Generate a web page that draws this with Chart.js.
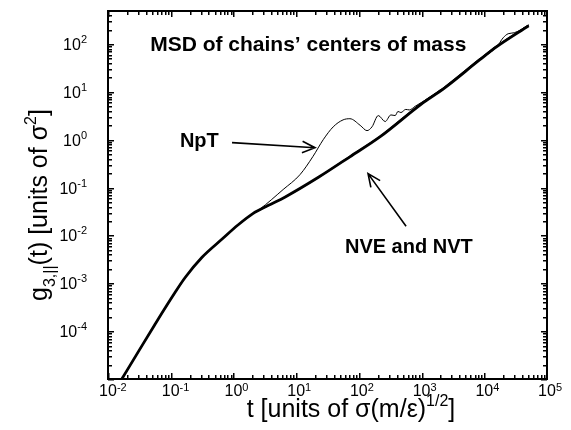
<!DOCTYPE html>
<html>
<head>
<meta charset="utf-8">
<script src="https://cdn.jsdelivr.net/npm/chart.js@4.4.0/dist/chart.umd.min.js"></script>
<style>
  html, body { margin: 0; padding: 0; background: #fff; }
  canvas { display: block; }
</style>
</head>
<body>
<canvas id="msdCanvas" width="571" height="430"></canvas>
<script>
// valores (t em sigma*(m/eps)^1/2, g em sigma^2)
const tempos = [0.0166, 0.030, 0.056, 0.117, 0.17, 0.316, 0.66, 1.18, 2.04, 3.56, 6.6, 23, 72, 219, 980, 2370, 8500, 15850, 51000];
const gNVE = [1.0e-5, 3.6e-5, 1.38e-4, 6.4e-4, 1.32e-3, 3.5e-3, 8.4e-3, 0.0165, 0.0286, 0.042, 0.063, 0.166, 0.44, 1.16, 5.5, 12.3, 47, 88, 240];
const gNVT = [1.0e-5, 3.6e-5, 1.38e-4, 6.4e-4, 1.32e-3, 3.5e-3, 8.4e-3, 0.0165, 0.0286, 0.042, 0.063, 0.166, 0.45, 1.18, 5.7, 12.8, 49, 92, 250];

const temposNpT = [0.0166, 0.030, 0.056, 0.117, 0.17, 0.316, 0.66, 1.18, 2.04, 2.6, 6.2, 11.5, 18.6, 27, 39, 56, 72, 105, 135, 162, 204, 263, 324, 380, 420, 468, 560, 640, 790, 1410, 2370, 8500, 15850, 20000, 24000, 30000, 51000];
const gNpT = [1.0e-5, 3.6e-5, 1.38e-4, 6.4e-4, 1.32e-3, 3.5e-3, 8.4e-3, 0.0165, 0.0286, 0.035, 0.091, 0.186, 0.45, 1.0, 1.86, 2.6, 2.75, 2.0, 1.55, 1.86, 3.2, 2.4, 3.3, 3.2, 3.9, 3.7, 4.3, 4.2, 5.0, 8.0, 12.6, 47, 88, 135, 164, 172, 251];

const decadasX = [-2, -1, 0, 1, 2, 3, 4, 5];
const decadasY = [-4, -3, -2, -1, 0, 1, 2];
const decadasMenores = [-5, -4, -3, -2, -1, 0, 1, 2, 3, 4];
const limitesX = [0.01, 1e5];
const limitesY = [1e-5, 490];

const fonte = '"Liberation Sans", Arial, Helvetica, sans-serif';

function pares(xs, ys) {
  return xs.map((x, i) => ({ x: x, y: ys[i] }));
}

// desenha texto com partes normais, sobrescritas e subscritas
function textoRico(ctx, partes, x, y, tamanho, alinhamento, negrito) {
  const peso = negrito ? 'bold ' : '';
  const pequeno = Math.round(tamanho * 0.64);
  let largura = 0;
  partes.forEach((p) => {
    ctx.font = peso + (p.tipo ? pequeno : tamanho) + 'px ' + fonte;
    p.w = ctx.measureText(p.t).width;
    largura += p.w;
  });
  let cx = x;
  if (alinhamento === 'center') cx = x - largura / 2;
  if (alinhamento === 'right') cx = x - largura;
  ctx.textAlign = 'left';
  ctx.textBaseline = 'alphabetic';
  partes.forEach((p) => {
    ctx.font = peso + (p.tipo ? pequeno : tamanho) + 'px ' + fonte;
    let dy = 0;
    if (p.tipo === 'sup') dy = -tamanho * 0.45;
    if (p.tipo === 'sub') dy = tamanho * 0.3;
    ctx.fillText(p.t, cx, y + dy);
    cx += p.w;
  });
}

function potencia(ctx, exp, x, y, eixo) {
  const expTxt = String(exp);
  ctx.font = '16px ' + fonte;
  const w10 = ctx.measureText('10').width;
  ctx.font = '11px ' + fonte;
  const wExp = ctx.measureText(expTxt).width;
  ctx.textAlign = 'left';
  ctx.textBaseline = 'alphabetic';
  let x0;
  let base;
  let baseExp;
  if (eixo === 'x') {
    x0 = x - w10 / 2;
    base = y;
    baseExp = y - 5;
  } else {
    x0 = x - w10 - wExp;
    base = y + 6;
    baseExp = y - 1;
  }
  ctx.font = '16px ' + fonte;
  ctx.fillText('10', x0, base);
  ctx.font = '11px ' + fonte;
  ctx.fillText(expTxt, x0 + w10, baseExp);
}

function seta(ctx, x1, y1, x2, y2) {
  const ang = Math.atan2(y2 - y1, x2 - x1);
  const comp = 14;
  const abertura = 0.42;
  ctx.beginPath();
  ctx.moveTo(x1, y1);
  ctx.lineTo(x2, y2);
  ctx.moveTo(x2 - comp * Math.cos(ang - abertura), y2 - comp * Math.sin(ang - abertura));
  ctx.lineTo(x2, y2);
  ctx.lineTo(x2 - comp * Math.cos(ang + abertura), y2 - comp * Math.sin(ang + abertura));
  ctx.stroke();
}

const eixosPlugin = {
  id: 'eixos',
  afterDraw(chart) {
    const ctx = chart.ctx;
    const a = chart.chartArea;
    const sx = chart.scales.x;
    const sy = chart.scales.y;
    ctx.save();
    ctx.strokeStyle = '#000';
    ctx.fillStyle = '#000';

    // marcas para dentro nos quatro lados
    decadasMenores.forEach((d) => {
      for (let m = 1; m <= 9; m++) {
        const v = m * Math.pow(10, d);
        const tam = m === 1 ? 6 : 4;
        if (v >= limitesX[0] * 0.999 && v <= limitesX[1] * 1.001) {
          const px = Math.round(sx.getPixelForValue(v));
          ctx.fillRect(px, a.bottom - tam, 1.5, tam);
          ctx.fillRect(px, a.top, 1.5, tam);
        }
        if (v >= limitesY[0] * 0.999 && v <= limitesY[1]) {
          const py = Math.round(sy.getPixelForValue(v));
          ctx.fillRect(a.left, py, tam, 1.5);
          ctx.fillRect(a.right - tam, py, tam, 1.5);
        }
      }
    });

    ctx.lineWidth = 2;
    ctx.strokeRect(a.left, a.top, a.right - a.left, a.bottom - a.top);

    // rotulos
    decadasX.forEach((d) => {
      potencia(ctx, d, sx.getPixelForValue(Math.pow(10, d)), a.bottom + 17, 'x');
    });
    decadasY.forEach((d) => {
      potencia(ctx, d, 87, sy.getPixelForValue(Math.pow(10, d)), 'y');
    });

    // titulos dos eixos
    textoRico(ctx, [
      { t: 't [units of \u03C3(m/\u03B5)' },
      { t: '1/2', tipo: 'sup' },
      { t: ']' }
    ], 351, 417, 25, 'center');

    ctx.save();
    ctx.translate(47, 205);
    ctx.rotate(-Math.PI / 2);
    textoRico(ctx, [
      { t: 'g' },
      { t: '3,||', tipo: 'sub' },
      { t: '(t) [units of \u03C3' },
      { t: '2', tipo: 'sup' },
      { t: ']' }
    ], 0, 0, 25, 'center');
    ctx.restore();

    // anotacoes
    textoRico(ctx, [{ t: 'MSD of chains\u2019 centers of mass' }],
      sx.getPixelForValue(0.047), sy.getPixelForValue(72), 21, 'left', true);
    textoRico(ctx, [{ t: 'NpT' }],
      sx.getPixelForValue(0.14), sy.getPixelForValue(0.72), 20, 'left', true);
    textoRico(ctx, [{ t: 'NVE and NVT' }],
      sx.getPixelForValue(60), sy.getPixelForValue(0.0042), 20, 'left', true);

    ctx.lineWidth = 1.6;
    seta(ctx, sx.getPixelForValue(0.95), sy.getPixelForValue(0.87),
      sx.getPixelForValue(20), sy.getPixelForValue(0.68));
    seta(ctx, sx.getPixelForValue(566), sy.getPixelForValue(0.0155),
      sx.getPixelForValue(140), sy.getPixelForValue(0.196));
    ctx.restore();
  }
};

window.onload = function () {
  const ctx = document.getElementById('msdCanvas');
  new Chart(ctx, {
    type: 'line',
    data: {
      datasets: [
        {
          label: 'NVE',
          data: pares(tempos, gNVE),
          borderColor: '#000',
          borderWidth: 2.8,
          pointRadius: 0,
          cubicInterpolationMode: 'monotone'
        },
        {
          label: 'NVT',
          data: pares(tempos, gNVT),
          borderColor: '#000',
          borderWidth: 1.4,
          pointRadius: 0,
          cubicInterpolationMode: 'monotone'
        },
        {
          label: 'NpT',
          data: pares(temposNpT, gNpT),
          borderColor: '#000',
          borderWidth: 1,
          pointRadius: 0,
          cubicInterpolationMode: 'monotone'
        }
      ]
    },
    options: {
      responsive: false,
      animation: false,
      devicePixelRatio: 1,
      layout: { padding: { left: 108, top: 11, right: 24, bottom: 51 } },
      scales: {
        x: { type: 'logarithmic', min: limitesX[0], max: limitesX[1], display: false },
        y: { type: 'logarithmic', min: limitesY[0], max: limitesY[1], display: false }
      },
      plugins: {
        legend: { display: false },
        tooltip: { enabled: false }
      }
    },
    plugins: [eixosPlugin]
  });
};
</script>
</body>
</html>
